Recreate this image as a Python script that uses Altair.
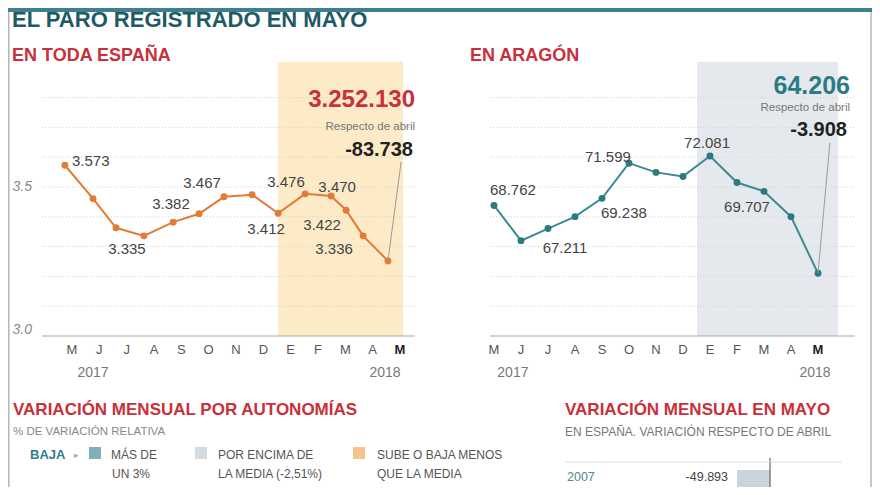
import altair as alt
import pandas as pd

# ---------------- data ----------------
months = ["M", "J", "J", "A", "S", "O", "N", "D", "E", "F", "M", "A", "M"]
month_idx = list(range(13))

# España (millones), 14 puntos, posición en unidades de mes
spain_values = [3.573, 3.461, 3.363, 3.336, 3.382, 3.410, 3.467, 3.474, 3.412, 3.477, 3.470, 3.422, 3.336, 3.252]
spain_pos = [-0.26, 0.77, 1.61, 2.63, 3.70, 4.65, 5.56, 6.59, 7.54, 8.53, 9.48, 10.03, 10.65, 11.56]
spain_labels = ["3.573", "3.335", "3.382", "3.467", "3.412", "3.476", "3.470", "3.422", "3.336"]
spain_label_x = [0.0, 2.01, 3.62, 4.76, 7.10, 7.83, 9.70, 9.15, 9.59]
spain_label_y = [3.587, 3.292, 3.443, 3.513, 3.359, 3.517, 3.500, 3.372, 3.292]
spain_label_align = ["left"] + ["center"] * 8
spain_grid = [3.1, 3.2, 3.3, 3.4, 3.5, 3.6, 3.7, 3.8]

# Aragón (miles)
aragon_values = [68.762, 66.40, 67.211, 68.01, 69.238, 71.599, 70.98, 70.71, 72.081, 70.30, 69.707, 68.01, 64.206]
aragon_labels = ["68.762", "67.211", "69.238", "71.599", "72.081", "69.707"]
aragon_label_x = [-0.15, 2.63, 4.81, 4.22, 7.89, 9.37]
aragon_label_y = [69.80, 65.91, 68.26, 72.01, 72.95, 68.66]
aragon_label_align = ["left"] + ["center"] * 5
aragon_grid = [62, 64, 66, 68, 70, 72, 74, 76]

# Variación mensual en mayo
years = ["2007"]
may_change = [-49893]
may_change_text = ["-49.893"]

# ---------------- styles ----------------
FONT = "Liberation Sans"
ORANGE = "#e27b36"
TEAL = "#3a8b92"
TEAL_DARK = "#2b7a80"
RED = "#c9303a"
TITLE_TEAL = "#1d5a66"

layers = []


def sx_spain():
    return alt.Scale(domain=[0, 12], range=[64, 392], nice=False, zero=False)


def sy_spain():
    return alt.Scale(domain=[3.0, 3.5], range=[328, 179], nice=False, zero=False)


def sx_arag():
    return alt.Scale(domain=[0, 12], range=[486, 810], nice=False, zero=False)


def sy_arag():
    return alt.Scale(domain=[60, 70], range=[328, 179], nice=False, zero=False)


def txt(t, x, y, size=12, color="#555", weight="normal", align="left", style="normal"):
    layers.append(
        alt.Chart(pd.DataFrame({"t": [t]}))
        .mark_text(font=FONT, fontSize=size, color=color, fontWeight=weight,
                   align=align, baseline="middle", fontStyle=style)
        .encode(text="t:N", x=alt.value(x), y=alt.value(y))
    )


# ---------- frame ----------
layers.append(alt.Chart(pd.DataFrame({"a": [0]})).mark_rect(color="#3f808d").encode(
    x=alt.value(0), x2=alt.value(864), y=alt.value(0), y2=alt.value(4)))
layers.append(alt.Chart(pd.DataFrame({"a": [0]})).mark_rule(color="#b5b5b5", strokeWidth=1.5).encode(
    x=alt.value(0.8), y=alt.value(4), y2=alt.value(479)))
layers.append(alt.Chart(pd.DataFrame({"a": [0]})).mark_rule(color="#b5b5b5", strokeWidth=1.5).encode(
    x=alt.value(863), y=alt.value(4), y2=alt.value(479)))

# ---------- Spain panel ----------
band_s = pd.DataFrame({"x0": [7.54], "x1": [12.11], "y0": [3.0], "y1": [3.92]})
layers.append(alt.Chart(band_s).mark_rect(color="#fdebc8").encode(
    x=alt.X("x0:Q", scale=sx_spain(), axis=None), x2="x1:Q",
    y=alt.Y("y0:Q", scale=sy_spain(), axis=None), y2="y1:Q"))

grid_s = pd.DataFrame({"v": spain_grid, "xs": [-1.10] * len(spain_grid), "xe": [12.55] * len(spain_grid)})
layers.append(alt.Chart(grid_s).mark_rule(color="#d2d2d2", strokeDash=[1, 2], strokeWidth=1).encode(
    x=alt.X("xs:Q", scale=sx_spain(), axis=None), x2="xe:Q",
    y=alt.Y("v:Q", scale=sy_spain(), axis=None)))
base_s = pd.DataFrame({"v": [3.0], "xs": [-1.10], "xe": [12.55]})
layers.append(alt.Chart(base_s).mark_rule(color="#a8a8a8", strokeWidth=1).encode(
    x=alt.X("xs:Q", scale=sx_spain(), axis=None), x2="xe:Q",
    y=alt.Y("v:Q", scale=sy_spain(), axis=None)))

sp = pd.DataFrame({"pos": spain_pos, "val": spain_values})
layers.append(alt.Chart(sp).mark_line(color=ORANGE, strokeWidth=2).encode(
    x=alt.X("pos:Q", scale=sx_spain(), axis=None), y=alt.Y("val:Q", scale=sy_spain(), axis=None)))
layers.append(alt.Chart(sp).mark_circle(color=ORANGE, size=48, opacity=1).encode(
    x=alt.X("pos:Q", scale=sx_spain(), axis=None), y=alt.Y("val:Q", scale=sy_spain(), axis=None)))

lead_s = pd.DataFrame({"x0": [12.04], "y0": [3.584], "x1": [spain_pos[-1]], "y1": [spain_values[-1]]})
layers.append(alt.Chart(lead_s).mark_rule(color="#9a9a9a", strokeWidth=1).encode(
    x=alt.X("x0:Q", scale=sx_spain(), axis=None), x2="x1:Q",
    y=alt.Y("y0:Q", scale=sy_spain(), axis=None), y2="y1:Q"))

for al in ["left", "center"]:
    d = pd.DataFrame({"t": spain_labels, "x": spain_label_x, "y": spain_label_y, "a": spain_label_align})
    d = d[d.a == al]
    layers.append(alt.Chart(d).mark_text(font=FONT, fontSize=15, color="#444", align=al).encode(
        text="t:N", x=alt.X("x:Q", scale=sx_spain(), axis=None), y=alt.Y("y:Q", scale=sy_spain(), axis=None)))

ms = pd.DataFrame({"i": month_idx[:-1], "m": months[:-1]})
layers.append(alt.Chart(ms).mark_text(font=FONT, fontSize=13, color="#555").encode(
    text="m:N", x=alt.X("i:Q", scale=sx_spain(), axis=None), y=alt.value(342)))
ms_last = pd.DataFrame({"i": [12], "m": [months[-1]]})
layers.append(alt.Chart(ms_last).mark_text(font=FONT, fontSize=13, color="#222", fontWeight="bold").encode(
    text="m:N", x=alt.X("i:Q", scale=sx_spain(), axis=None), y=alt.value(342)))
ys = pd.DataFrame({"i": [0.77, 11.45], "t": ["2017", "2018"]})
layers.append(alt.Chart(ys).mark_text(font=FONT, fontSize=14, color="#777").encode(
    text="t:N", x=alt.X("i:Q", scale=sx_spain(), axis=None), y=alt.value(365)))

# ---------- Aragón panel ----------
band_a = pd.DataFrame({"x0": [7.52], "x1": [12.74], "y0": [60.0], "y1": [78.39]})
layers.append(alt.Chart(band_a).mark_rect(color="#e5e9ee").encode(
    x=alt.X("x0:Q", scale=sx_arag(), axis=None), x2="x1:Q",
    y=alt.Y("y0:Q", scale=sy_arag(), axis=None), y2="y1:Q"))

grid_a = pd.DataFrame({"v": aragon_grid, "xs": [-0.15] * len(aragon_grid), "xe": [13.37] * len(aragon_grid)})
layers.append(alt.Chart(grid_a).mark_rule(color="#d2d2d2", strokeDash=[1, 2], strokeWidth=1).encode(
    x=alt.X("xs:Q", scale=sx_arag(), axis=None), x2="xe:Q",
    y=alt.Y("v:Q", scale=sy_arag(), axis=None)))
base_a = pd.DataFrame({"v": [60.0], "xs": [-0.15], "xe": [13.37]})
layers.append(alt.Chart(base_a).mark_rule(color="#a8a8a8", strokeWidth=1).encode(
    x=alt.X("xs:Q", scale=sx_arag(), axis=None), x2="xe:Q",
    y=alt.Y("v:Q", scale=sy_arag(), axis=None)))

ar = pd.DataFrame({"i": month_idx, "val": aragon_values})
layers.append(alt.Chart(ar).mark_line(color=TEAL, strokeWidth=2).encode(
    x=alt.X("i:Q", scale=sx_arag(), axis=None), y=alt.Y("val:Q", scale=sy_arag(), axis=None)))
layers.append(alt.Chart(ar).mark_circle(color=TEAL_DARK, size=48, opacity=1).encode(
    x=alt.X("i:Q", scale=sx_arag(), axis=None), y=alt.Y("val:Q", scale=sy_arag(), axis=None)))

lead_a = pd.DataFrame({"x0": [12.44], "y0": [72.95], "x1": [12], "y1": [aragon_values[-1]]})
layers.append(alt.Chart(lead_a).mark_rule(color="#9a9a9a", strokeWidth=1).encode(
    x=alt.X("x0:Q", scale=sx_arag(), axis=None), x2="x1:Q",
    y=alt.Y("y0:Q", scale=sy_arag(), axis=None), y2="y1:Q"))

for al in ["left", "center"]:
    d = pd.DataFrame({"t": aragon_labels, "x": aragon_label_x, "y": aragon_label_y, "a": aragon_label_align})
    d = d[d.a == al]
    layers.append(alt.Chart(d).mark_text(font=FONT, fontSize=15, color="#444", align=al).encode(
        text="t:N", x=alt.X("x:Q", scale=sx_arag(), axis=None), y=alt.Y("y:Q", scale=sy_arag(), axis=None)))

layers.append(alt.Chart(ms).mark_text(font=FONT, fontSize=13, color="#555").encode(
    text="m:N", x=alt.X("i:Q", scale=sx_arag(), axis=None), y=alt.value(342)))
layers.append(alt.Chart(ms_last).mark_text(font=FONT, fontSize=13, color="#222", fontWeight="bold").encode(
    text="m:N", x=alt.X("i:Q", scale=sx_arag(), axis=None), y=alt.value(342)))
ya = pd.DataFrame({"i": [0.70, 11.89], "t": ["2017", "2018"]})
layers.append(alt.Chart(ya).mark_text(font=FONT, fontSize=14, color="#777").encode(
    text="t:N", x=alt.X("i:Q", scale=sx_arag(), axis=None), y=alt.value(365)))

# ---------- bottom right bar ----------
bar = pd.DataFrame({"year": years, "v": may_change, "z": [0] * len(years)})
layers.append(alt.Chart(bar).mark_bar(color="#c9d5de").encode(
    x=alt.X("v:Q", scale=alt.Scale(domain=[-250000, 0], range=[597, 762], nice=False, zero=False), axis=None),
    x2="z:Q",
    y=alt.Y("year:N", scale=alt.Scale(domain=years, range=[462, 494], paddingInner=0, paddingOuter=0), axis=None)))
zero = pd.DataFrame({"z": [0]})
layers.append(alt.Chart(zero).mark_rule(color="#666", strokeWidth=1.2).encode(
    x=alt.X("z:Q", scale=alt.Scale(domain=[-250000, 0], range=[597, 762], nice=False, zero=False), axis=None),
    y=alt.value(450), y2=alt.value(479)))
layers.append(alt.Chart(pd.DataFrame({"a": [0]})).mark_rule(color="#e6ded2", strokeWidth=1.2).encode(
    x=alt.value(557), x2=alt.value(834), y=alt.value(454)))

# ---------- texts ----------
txt("EL PARO REGISTRADO EN MAYO", 4, 12, 22, TITLE_TEAL, "bold")
txt("EN TODA ESPAÑA", 4, 48, 18, RED, "bold")
txt("EN ARAGÓN", 462, 48, 18, RED, "bold")

txt("3.252.130", 407, 92, 24, RED, "bold", "right")
txt("Respecto de abril", 407, 119, 11.5, "#777", "normal", "right")
txt("-83.738", 405, 142, 20, "#222", "bold", "right")

txt("64.206", 842, 78, 25, "#2a7b82", "bold", "right")
txt("Respecto de abril", 842, 100, 11.5, "#777", "normal", "right")
txt("-3.908", 839, 122, 20, "#222", "bold", "right")

txt("3.5", 24, 179, 14, "#888", "normal", "right", "italic")
txt("3.0", 24, 322, 14, "#888", "normal", "right", "italic")

txt("VARIACIÓN MENSUAL POR AUTONOMÍAS", 5, 402, 17, RED, "bold")
txt("% DE VARIACIÓN RELATIVA", 5, 424, 11.5, "#888")
txt("BAJA", 22, 447, 13, "#2f7f8a", "bold")
txt("▸", 68, 447, 9, "#aaa", "normal", "center")
for cx, col in [(87, "#7fb0bb"), (193, "#d3dce2"), (351, "#f7c38d")]:
    layers.append(alt.Chart(pd.DataFrame({"a": [0]})).mark_square(color=col, size=144, opacity=1).encode(
        x=alt.value(cx), y=alt.value(445)))
txt("MÁS DE", 103, 447, 12, "#555")
txt("UN 3%", 104, 466, 12, "#555")
txt("POR ENCIMA DE", 210, 447, 12, "#555")
txt("LA MEDIA (-2,51%)", 210, 466, 12, "#555")
txt("SUBE O BAJA MENOS", 369, 447, 12, "#555")
txt("QUE LA MEDIA", 369, 466, 12, "#555")

txt("VARIACIÓN MENSUAL EN MAYO", 557, 402, 17, RED, "bold")
txt("EN ESPAÑA. VARIACIÓN RESPECTO DE ABRIL", 557, 424, 12, "#777")
txt(years[0], 559, 469, 12.5, "#4d8a94")
txt(may_change_text[0], 720, 469, 12.5, "#444", "normal", "right")

chart = (
    alt.layer(*layers)
    .resolve_scale(x="independent", y="independent")
    .properties(width=864, height=479, padding=0, autosize=alt.AutoSizeParams(type="none"),
                background="white")
    .configure_view(stroke=None)
)

chart.save("out.html", embed_options={"renderer": "svg", "actions": False})
